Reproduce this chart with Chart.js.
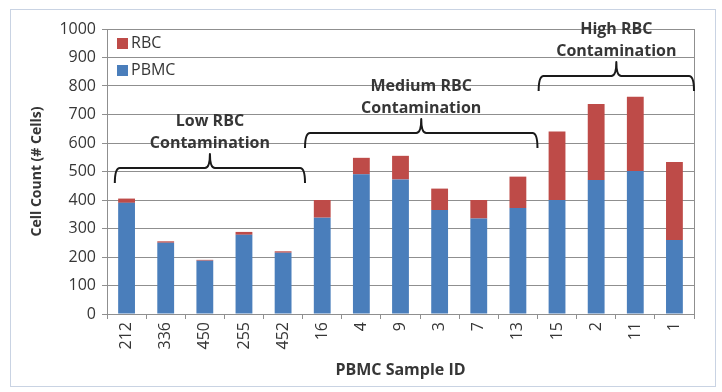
<!DOCTYPE html>
<html>
<head>
<meta charset="utf-8">
<script src="https://cdn.jsdelivr.net/npm/chart.js@4/dist/chart.umd.min.js"></script>
<style>
  body { margin: 0; background: #fff; }
  #marco { position: absolute; left: 10px; top: 9px; width: 704px; height: 376px; border: 1px solid #c9d3e3; }
  #lienzo { position: absolute; left: 0; top: 0; }
</style>
</head>
<body>
<div id="marco"></div>
<canvas id="lienzo" width="722" height="392"></canvas>
<script>
/********** datos del gráfico **********/
var muestras = ["212", "336", "450", "255", "452", "16", "4", "9", "3", "7", "13", "15", "2", "11", "1"];
var pbmc = [390, 250, 187, 278, 215, 338, 490, 472, 365, 335, 372, 400, 470, 502, 260];
var rbc  = [15, 5, 3, 10, 5, 62, 58, 83, 75, 65, 110, 240, 267, 260, 273];
var etiquetasY = [0, 100, 200, 300, 400, 500, 600, 700, 800, 900, 1000];

// grupos de contaminación (primer y último índice de muestra)
var grupos = ["Low RBC|Contamination", "Medium RBC|Contamination", "High RBC|Contamination"];
var gruposInicio = [0, 5, 11];
var gruposFin = [4, 10, 14];

var azul = "#4a7ebb";
var rojo = "#be4b48";
var gris = "#8f8f8f";
var texto = "#363636";

/********** plugin: leyenda, borde derecho y llaves **********/
// nivel de la llave (en unidades del eje y) y extensión en categorías
var llaves = [
  { y: 512, izq: -0.3, der: 0.56 },
  { y: 635, izq: -0.44, der: 0.5 },
  { y: 835, izq: -0.47, der: 0.5 }
];

var extras = {
  id: "extras",
  afterDraw: function (chart) {
    var ctx = chart.ctx;
    var area = chart.chartArea;
    var x = chart.scales.x;
    var y = chart.scales.y;

    // borde derecho del área de trazado
    ctx.save();
    ctx.strokeStyle = gris;
    ctx.lineWidth = 1;
    ctx.beginPath();
    ctx.moveTo(Math.round(area.right) + 0.5, area.top);
    ctx.lineTo(Math.round(area.right) + 0.5, area.bottom);
    ctx.stroke();

    // leyenda dentro del área
    var ds = chart.data.datasets;
    var orden = [1, 0];
    ctx.font = "16px 'Open Sans'";
    ctx.textBaseline = "middle";
    ctx.textAlign = "left";
    for (var i = 0; i < orden.length; i++) {
      var d = ds[orden[i]];
      var cy = 43 + i * 27;
      ctx.fillStyle = d.backgroundColor;
      ctx.fillRect(117, cy - 5, 11, 11);
      ctx.fillStyle = texto;
      ctx.fillText(d.label, 131, cy);
    }

    // llaves
    var paso = x.getPixelForValue(1) - x.getPixelForValue(0);
    ctx.strokeStyle = "#1a1a1a";
    ctx.lineWidth = 2;
    ctx.lineJoin = "round";
    for (var g = 0; g < grupos.length; g++) {
      var ll = llaves[g];
      var x0 = x.getPixelForValue(gruposInicio[g]) + ll.izq * paso;
      var x1 = x.getPixelForValue(gruposFin[g]) + ll.der * paso;
      if (x1 > area.right) x1 = area.right;
      var yh = y.getPixelForValue(ll.y);
      var xm = (x0 + x1) / 2;
      var r = 5;
      ctx.beginPath();
      ctx.moveTo(x0, yh + 15);
      ctx.quadraticCurveTo(x0, yh, x0 + r, yh);
      ctx.lineTo(xm - r, yh);
      ctx.quadraticCurveTo(xm, yh, xm, yh - 14);
      ctx.quadraticCurveTo(xm, yh, xm + r, yh);
      ctx.lineTo(x1 - r, yh);
      ctx.quadraticCurveTo(x1, yh, x1, yh + 15);
      ctx.stroke();

      var lineas = grupos[g].split("|");
      ctx.font = "bold 16px 'Open Sans'";
      ctx.textAlign = "center";
      ctx.fillStyle = texto;
      ctx.fillText(lineas[0], xm, yh - 47);
      ctx.fillText(lineas[1], xm, yh - 25);
    }
    ctx.restore();
  }
};

/********** definición del gráfico **********/
var config = {
  type: "bar",
  data: {
    labels: muestras,
    datasets: [
      { label: "PBMC", data: pbmc, backgroundColor: azul, barPercentage: 0.43, categoryPercentage: 1 },
      { label: "RBC", data: rbc, backgroundColor: rojo, barPercentage: 0.43, categoryPercentage: 1 }
    ]
  },
  options: {
    responsive: false,
    animation: false,
    layout: { padding: { top: 29, right: 28, left: 0, bottom: 0 } },
    plugins: {
      legend: { display: false },
      tooltip: { enabled: false }
    },
    scales: {
      x: {
        stacked: true,
        afterFit: function (s) { s.height = 78; },
        grid: { drawOnChartArea: false, drawTicks: true, tickLength: 5, color: gris, offset: true },
        border: { color: gris, width: 1 },
        ticks: { color: texto, font: { family: "'Open Sans'", size: 16 }, minRotation: 90, maxRotation: 90, padding: 3, autoSkip: false },
        title: { display: true, text: "PBMC Sample ID", color: texto, font: { family: "'Open Sans'", size: 16, weight: "bold" }, padding: { top: 12, bottom: 12 } }
      },
      y: {
        stacked: true,
        min: 0,
        max: 1000,
        afterFit: function (s) { s.width = 107; },
        afterBuildTicks: function (s) { s.ticks = etiquetasY.map(function (v) { return { value: v }; }); },
        grid: { color: gris, tickLength: 5 },
        border: { color: gris, width: 1 },
        ticks: { color: texto, font: { family: "'Open Sans'", size: 16 }, padding: 6, callback: function (v) { return String(v); } },
        title: { display: true, text: "Cell Count (# Cells)", color: texto, font: { family: "'Open Sans'", size: 14, weight: "bold" }, padding: { top: 29, bottom: 29 } }
      }
    }
  },
  plugins: [extras]
};

var chart = new Chart(document.getElementById("lienzo").getContext("2d"), config);
</script>
</body>
</html>
